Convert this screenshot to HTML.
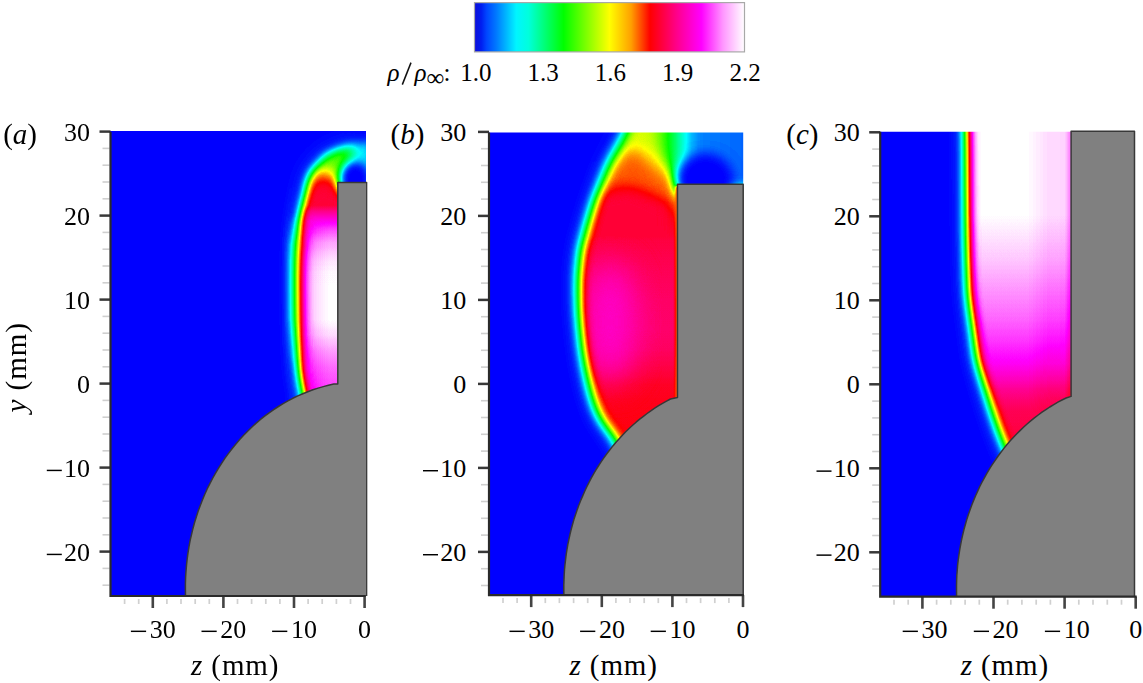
<!DOCTYPE html>
<html><head><meta charset="utf-8"><style>
html,body{margin:0;padding:0;background:#fff;width:1143px;height:683px;overflow:hidden}
svg{display:block}
text{font-family:"Liberation Serif",serif;fill:#000}
.tk{font-size:26px}
.ax{font-size:29px}
.cl{font-size:25px}
</style></head><body>
<svg width="1143" height="683" viewBox="0 0 1143 683">
<defs><filter id="cmap" x="0" y="0" width="1" height="1" color-interpolation-filters="sRGB"><feComponentTransfer><feFuncR type="table" tableValues="0.000 0.000 0.000 0.000 0.000 0.000 0.000 0.000 0.000 0.000 0.000 0.000 0.000 0.000 0.000 0.000 0.000 0.000 0.000 0.000 0.000 0.000 0.000 0.000 0.000 0.000 0.000 0.000 0.000 0.000 0.000 0.000 0.000 0.000 0.059 0.118 0.176 0.235 0.294 0.353 0.412 0.471 0.529 0.588 0.647 0.706 0.765 0.824 0.882 0.941 1.000 1.000 1.000 1.000 1.000 1.000 1.000 1.000 1.000 1.000 1.000 1.000 1.000 1.000 1.000 1.000 1.000 1.000 1.000 1.000 1.000 1.000 1.000 1.000 1.000 1.000 1.000 1.000 1.000 1.000 1.000 1.000 1.000 1.000 1.000 1.000 1.000 1.000 1.000 1.000 1.000 1.000 1.000 1.000 1.000 1.000 1.000 1.000 1.000 1.000 1.000"/><feFuncG type="table" tableValues="0.000 0.067 0.133 0.200 0.267 0.333 0.400 0.467 0.533 0.600 0.667 0.733 0.800 0.867 0.933 1.000 1.000 1.000 1.000 1.000 1.000 1.000 1.000 1.000 1.000 1.000 1.000 1.000 1.000 1.000 1.000 1.000 1.000 1.000 1.000 1.000 1.000 1.000 1.000 1.000 1.000 1.000 1.000 1.000 1.000 1.000 1.000 1.000 1.000 1.000 1.000 0.933 0.867 0.800 0.733 0.667 0.600 0.533 0.467 0.400 0.333 0.267 0.200 0.133 0.067 0.000 0.000 0.000 0.000 0.000 0.000 0.000 0.000 0.000 0.000 0.000 0.000 0.000 0.000 0.000 0.000 0.000 0.000 0.000 0.000 0.063 0.125 0.188 0.250 0.313 0.375 0.438 0.500 0.563 0.625 0.687 0.750 0.812 0.875 0.938 1.000"/><feFuncB type="table" tableValues="1.000 1.000 1.000 1.000 1.000 1.000 1.000 1.000 1.000 1.000 1.000 1.000 1.000 1.000 1.000 1.000 0.944 0.889 0.833 0.778 0.722 0.667 0.611 0.556 0.500 0.444 0.389 0.333 0.278 0.222 0.167 0.111 0.056 0.000 0.000 0.000 0.000 0.000 0.000 0.000 0.000 0.000 0.000 0.000 0.000 0.000 0.000 0.000 0.000 0.000 0.000 0.000 0.000 0.000 0.000 0.000 0.000 0.000 0.000 0.000 0.000 0.000 0.000 0.000 0.000 0.000 0.053 0.105 0.158 0.211 0.263 0.316 0.368 0.421 0.474 0.526 0.579 0.632 0.684 0.737 0.789 0.842 0.895 0.947 1.000 1.000 1.000 1.000 1.000 1.000 1.000 1.000 1.000 1.000 1.000 1.000 1.000 1.000 1.000 1.000 1.000"/></feComponentTransfer></filter><filter id="b1_3" x="-50%" y="-50%" width="200%" height="200%" color-interpolation-filters="sRGB"><feGaussianBlur stdDeviation="1.3"/></filter><filter id="b1_5" x="-50%" y="-50%" width="200%" height="200%" color-interpolation-filters="sRGB"><feGaussianBlur stdDeviation="1.5"/></filter><filter id="b4" x="-50%" y="-50%" width="200%" height="200%" color-interpolation-filters="sRGB"><feGaussianBlur stdDeviation="4"/></filter><filter id="b4_5" x="-50%" y="-50%" width="200%" height="200%" color-interpolation-filters="sRGB"><feGaussianBlur stdDeviation="4.5"/></filter><filter id="b5_5" x="-50%" y="-50%" width="200%" height="200%" color-interpolation-filters="sRGB"><feGaussianBlur stdDeviation="5.5"/></filter><filter id="b6" x="-50%" y="-50%" width="200%" height="200%" color-interpolation-filters="sRGB"><feGaussianBlur stdDeviation="6"/></filter><filter id="b7" x="-50%" y="-50%" width="200%" height="200%" color-interpolation-filters="sRGB"><feGaussianBlur stdDeviation="7"/></filter><filter id="b8" x="-50%" y="-50%" width="200%" height="200%" color-interpolation-filters="sRGB"><feGaussianBlur stdDeviation="8"/></filter><filter id="b9" x="-50%" y="-50%" width="200%" height="200%" color-interpolation-filters="sRGB"><feGaussianBlur stdDeviation="9"/></filter><filter id="b10" x="-50%" y="-50%" width="200%" height="200%" color-interpolation-filters="sRGB"><feGaussianBlur stdDeviation="10"/></filter><filter id="b16" x="-50%" y="-50%" width="200%" height="200%" color-interpolation-filters="sRGB"><feGaussianBlur stdDeviation="16"/></filter><linearGradient id="ga" gradientUnits="userSpaceOnUse" x1="0" y1="120.0" x2="0" y2="420.0"><stop offset="0.0000" stop-color="#5c5c5c"/><stop offset="0.1000" stop-color="#5e5e5e"/><stop offset="0.1500" stop-color="#636363"/><stop offset="0.1933" stop-color="#6b6b6b"/><stop offset="0.2333" stop-color="#808080"/><stop offset="0.2667" stop-color="#a3a3a3"/><stop offset="0.2867" stop-color="#b2b2b2"/><stop offset="0.3033" stop-color="#bfbfbf"/><stop offset="0.3333" stop-color="#d1d1d1"/><stop offset="0.3667" stop-color="#e2e2e2"/><stop offset="0.4067" stop-color="#f0f0f0"/><stop offset="0.4400" stop-color="#f6f6f6"/><stop offset="0.4733" stop-color="#fbfbfb"/><stop offset="0.5067" stop-color="#fefefe"/><stop offset="0.5500" stop-color="#ffffff"/><stop offset="0.6667" stop-color="#ffffff"/><stop offset="0.7167" stop-color="#f9f9f9"/><stop offset="0.7667" stop-color="#f0f0f0"/><stop offset="0.8167" stop-color="#e8e8e8"/><stop offset="0.8667" stop-color="#e3e3e3"/><stop offset="0.9167" stop-color="#dfdfdf"/><stop offset="1.0000" stop-color="#dedede"/></linearGradient><linearGradient id="fadeA" gradientUnits="userSpaceOnUse" x1="338" y1="0" x2="366" y2="0"><stop offset="0" stop-color="#000" stop-opacity="0"/><stop offset="1" stop-color="#000" stop-opacity="0.2"/></linearGradient><linearGradient id="fadeL" gradientUnits="userSpaceOnUse" x1="298" y1="0" x2="326" y2="0"><stop offset="0" stop-color="#000" stop-opacity="0.07"/><stop offset="1" stop-color="#000" stop-opacity="0"/></linearGradient><linearGradient id="mka" gradientUnits="userSpaceOnUse" x1="0" y1="131.0" x2="0" y2="400.0"><stop offset="0.0000" stop-color="#000000"/><stop offset="0.3011" stop-color="#000000"/><stop offset="0.4238" stop-color="#ffffff"/><stop offset="0.7026" stop-color="#ffffff"/><stop offset="0.8885" stop-color="#404040"/><stop offset="1.0743" stop-color="#404040"/></linearGradient><mask id="mlowa" maskUnits="userSpaceOnUse" x="90" y="110" width="300" height="510"><rect x="90" y="110" width="300" height="510" fill="url(#mka)"/></mask><linearGradient id="gb" gradientUnits="userSpaceOnUse" x1="0" y1="120.0" x2="0" y2="470.0"><stop offset="0.0000" stop-color="#787878"/><stop offset="0.0714" stop-color="#7a7a7a"/><stop offset="0.1143" stop-color="#808080"/><stop offset="0.1571" stop-color="#878787"/><stop offset="0.2000" stop-color="#919191"/><stop offset="0.2429" stop-color="#9e9e9e"/><stop offset="0.2857" stop-color="#a8a8a8"/><stop offset="0.3429" stop-color="#b2b2b2"/><stop offset="0.4286" stop-color="#b6b6b6"/><stop offset="0.5143" stop-color="#b9b9b9"/><stop offset="0.6000" stop-color="#bababa"/><stop offset="0.6571" stop-color="#b8b8b8"/><stop offset="0.7143" stop-color="#b2b2b2"/><stop offset="0.7571" stop-color="#adadad"/><stop offset="0.8000" stop-color="#ababab"/><stop offset="0.9143" stop-color="#a8a8a8"/><stop offset="1.0000" stop-color="#a8a8a8"/></linearGradient><linearGradient id="gbh" gradientUnits="userSpaceOnUse" x1="645.0" y1="0" x2="745.0" y2="0"><stop offset="0.0000" stop-color="#7a7a7a"/><stop offset="0.0700" stop-color="#757575"/><stop offset="0.1700" stop-color="#616161"/><stop offset="0.2500" stop-color="#525252"/><stop offset="0.3900" stop-color="#292929"/><stop offset="0.5000" stop-color="#141414"/><stop offset="1.0000" stop-color="#0f0f0f"/></linearGradient><linearGradient id="gc" gradientUnits="userSpaceOnUse" x1="0" y1="120.0" x2="0" y2="470.0"><stop offset="0.0000" stop-color="#ffffff"/><stop offset="0.2714" stop-color="#ffffff"/><stop offset="0.3286" stop-color="#fbfbfb"/><stop offset="0.4000" stop-color="#f6f6f6"/><stop offset="0.4857" stop-color="#eeeeee"/><stop offset="0.5714" stop-color="#e6e6e6"/><stop offset="0.6429" stop-color="#dddddd"/><stop offset="0.6971" stop-color="#d4d4d4"/><stop offset="0.7429" stop-color="#c9c9c9"/><stop offset="0.7714" stop-color="#c1c1c1"/><stop offset="0.8286" stop-color="#b6b6b6"/><stop offset="0.9143" stop-color="#b1b1b1"/><stop offset="1.0000" stop-color="#afafaf"/></linearGradient><clipPath id="clipa"><rect x="110.5" y="131.8" width="255.1" height="464.2"/></clipPath><clipPath id="clipba"><rect x="110.5" y="128.8" width="257.1" height="467.2"/></clipPath><clipPath id="clipb"><rect x="489.0" y="132.6" width="254.2" height="462.5"/></clipPath><clipPath id="clipbb"><rect x="489.0" y="129.6" width="257.0" height="465.5"/></clipPath><clipPath id="clipc"><rect x="880.2" y="131.8" width="254.3" height="464.9"/></clipPath><clipPath id="clipbc"><rect x="880.2" y="128.8" width="258.5" height="467.9"/></clipPath><linearGradient id="cbg" x1="0" x2="1" y1="0" y2="0"><stop offset="0.000" stop-color="rgb(15,15,215)"/><stop offset="0.025" stop-color="rgb(0,30,240)"/><stop offset="0.045" stop-color="rgb(0,70,255)"/><stop offset="0.080" stop-color="rgb(0,120,255)"/><stop offset="0.110" stop-color="rgb(0,170,255)"/><stop offset="0.140" stop-color="rgb(0,220,255)"/><stop offset="0.155" stop-color="rgb(0,245,255)"/><stop offset="0.200" stop-color="rgb(0,255,220)"/><stop offset="0.330" stop-color="rgb(0,255,0)"/><stop offset="0.500" stop-color="rgb(255,255,0)"/><stop offset="0.580" stop-color="rgb(255,160,0)"/><stop offset="0.650" stop-color="rgb(255,0,0)"/><stop offset="0.750" stop-color="rgb(255,0,140)"/><stop offset="0.840" stop-color="rgb(255,0,255)"/><stop offset="0.920" stop-color="rgb(255,150,255)"/><stop offset="1.000" stop-color="rgb(255,255,255)"/></linearGradient></defs>
<g clip-path="url(#clipa)"><g filter="url(#cmap)"><rect x="100" y="120" width="280" height="490" fill="url(#ga)"/><rect x="352" y="110" width="40" height="80" fill="#000" opacity="0.55" filter="url(#b6)"/><path d="M321,168 L346,188 L346,240 L290,240 L290,205 Z" fill="#b0b0b0" filter="url(#b8)" style="mix-blend-mode:lighten"/><ellipse cx="355" cy="180" rx="16" ry="19" fill="#000" filter="url(#b4)"/><rect x="335" y="125" width="40" height="62" fill="url(#fadeA)"/><rect x="280" y="225" width="50" height="190" fill="url(#fadeL)" filter="url(#b4)"/><g style="mix-blend-mode:multiply"><rect x="100" y="120" width="280" height="490" fill="#000"/><g filter="url(#b4_5)"><path transform="translate(0.9,0.7)" d="M305.5,402.0 C304.9,399.6 303.1,392.8 302.1,387.5 C301.1,382.2 300.0,376.2 299.4,370.0 C298.8,363.8 298.6,358.3 298.3,350.0 C298.0,341.7 297.6,330.0 297.4,320.0 C297.2,310.0 297.1,300.0 297.1,290.0 C297.1,280.0 297.0,270.0 297.2,260.0 C297.4,250.0 297.9,238.3 298.5,230.0 C299.1,221.7 300.0,216.0 301.0,210.0 C302.0,204.0 303.7,198.5 304.6,194.0 C305.5,189.5 305.6,186.2 306.3,183.0 C307.0,179.8 307.6,177.1 308.7,174.5 C309.8,171.9 311.3,169.7 313.0,167.5 C314.7,165.3 316.9,163.2 318.7,161.3 C320.5,159.4 321.8,157.5 323.6,156.0 C325.4,154.5 326.6,153.7 329.3,152.4 C332.0,151.1 336.9,149.2 340.0,148.1 C343.1,146.9 345.0,146.3 348.0,145.5 C351.0,144.7 354.0,143.9 358.0,143.2 C362.0,142.5 369.7,141.8 372.0,141.5 L372,420 L300,420 Z" fill="#fff"/></g><g mask="url(#mlowa)"><rect x="100" y="120" width="280" height="490" fill="#000"/><g filter="url(#b7)"><path transform="translate(0.9,0.7)" d="M305.5,402.0 C304.9,399.6 303.1,392.8 302.1,387.5 C301.1,382.2 300.0,376.2 299.4,370.0 C298.8,363.8 298.6,358.3 298.3,350.0 C298.0,341.7 297.6,330.0 297.4,320.0 C297.2,310.0 297.1,300.0 297.1,290.0 C297.1,280.0 297.0,270.0 297.2,260.0 C297.4,250.0 297.9,238.3 298.5,230.0 C299.1,221.7 300.0,216.0 301.0,210.0 C302.0,204.0 303.7,198.5 304.6,194.0 C305.5,189.5 305.6,186.2 306.3,183.0 C307.0,179.8 307.6,177.1 308.7,174.5 C309.8,171.9 311.3,169.7 313.0,167.5 C314.7,165.3 316.9,163.2 318.7,161.3 C320.5,159.4 321.8,157.5 323.6,156.0 C325.4,154.5 326.6,153.7 329.3,152.4 C332.0,151.1 336.9,149.2 340.0,148.1 C343.1,146.9 345.0,146.3 348.0,145.5 C351.0,144.7 354.0,143.9 358.0,143.2 C362.0,142.5 369.7,141.8 372.0,141.5 L372,420 L300,420 Z" fill="#fff"/></g></g><g opacity="0.18" filter="url(#b10)"><path transform="translate(0.9,0.7)" d="M305.5,402.0 C304.9,399.6 303.1,392.8 302.1,387.5 C301.1,382.2 300.0,376.2 299.4,370.0 C298.8,363.8 298.6,358.3 298.3,350.0 C298.0,341.7 297.6,330.0 297.4,320.0 C297.2,310.0 297.1,300.0 297.1,290.0 C297.1,280.0 297.0,270.0 297.2,260.0 C297.4,250.0 297.9,238.3 298.5,230.0 C299.1,221.7 300.0,216.0 301.0,210.0 C302.0,204.0 303.7,198.5 304.6,194.0 C305.5,189.5 305.6,186.2 306.3,183.0 C307.0,179.8 307.6,177.1 308.7,174.5 C309.8,171.9 311.3,169.7 313.0,167.5 C314.7,165.3 316.9,163.2 318.7,161.3 C320.5,159.4 321.8,157.5 323.6,156.0 C325.4,154.5 326.6,153.7 329.3,152.4 C332.0,151.1 336.9,149.2 340.0,148.1 C343.1,146.9 345.0,146.3 348.0,145.5 C351.0,144.7 354.0,143.9 358.0,143.2 C362.0,142.5 369.7,141.8 372.0,141.5 L372,420 L300,420 Z" fill="#fff"/></g></g></g></g>
<path d="M366.8,182.5 L337.8,182.5 L337.8,384.0 L333.8,384.1 L328.5,385.2 L323.3,386.6 L318.1,388.1 L312.9,389.8 L307.8,391.7 L302.8,393.7 L297.8,395.9 L292.8,398.3 L287.9,400.9 L283.1,403.6 L278.4,406.5 L273.7,409.6 L269.1,412.8 L264.6,416.2 L260.2,419.7 L255.9,423.4 L251.7,427.2 L247.6,431.2 L243.6,435.3 L239.7,439.6 L235.9,444.0 L232.2,448.5 L228.7,453.1 L225.2,457.9 L221.9,462.8 L218.7,467.8 L215.7,472.8 L212.8,478.0 L210.0,483.3 L207.3,488.7 L204.8,494.2 L202.5,499.8 L200.3,505.4 L198.2,511.1 L196.3,516.9 L194.5,522.8 L192.9,528.7 L191.5,534.7 L190.1,540.7 L189.0,546.7 L188.0,552.8 L187.2,558.9 L186.5,565.1 L186.0,571.2 L185.6,577.4 L185.4,583.6 L185.4,589.8 L185.5,596.0 L366.8,596.0 Z" fill="#808080" stroke="#383838" stroke-width="1.5" stroke-linejoin="round" clip-path="url(#clipba)"/>
<line x1="102.5" y1="585.2" x2="109.5" y2="585.2" stroke="#cfcfcf" stroke-width="1.6"/><line x1="102.5" y1="568.4" x2="109.5" y2="568.4" stroke="#cfcfcf" stroke-width="1.6"/><line x1="99.5" y1="551.6" x2="110.5" y2="551.6" stroke="#383838" stroke-width="2.5"/><text x="90.1" y="560.6" text-anchor="end" class="tk">20</text><rect x="46.8" y="553.7" width="15.0" height="1.45" fill="#000"/><line x1="102.5" y1="534.8" x2="109.5" y2="534.8" stroke="#cfcfcf" stroke-width="1.6"/><line x1="102.5" y1="518.0" x2="109.5" y2="518.0" stroke="#cfcfcf" stroke-width="1.6"/><line x1="102.5" y1="501.2" x2="109.5" y2="501.2" stroke="#cfcfcf" stroke-width="1.6"/><line x1="102.5" y1="484.4" x2="109.5" y2="484.4" stroke="#cfcfcf" stroke-width="1.6"/><line x1="99.5" y1="467.6" x2="110.5" y2="467.6" stroke="#383838" stroke-width="2.5"/><text x="90.1" y="476.6" text-anchor="end" class="tk">10</text><rect x="46.8" y="469.7" width="15.0" height="1.45" fill="#000"/><line x1="102.5" y1="450.8" x2="109.5" y2="450.8" stroke="#cfcfcf" stroke-width="1.6"/><line x1="102.5" y1="434.0" x2="109.5" y2="434.0" stroke="#cfcfcf" stroke-width="1.6"/><line x1="102.5" y1="417.2" x2="109.5" y2="417.2" stroke="#cfcfcf" stroke-width="1.6"/><line x1="102.5" y1="400.4" x2="109.5" y2="400.4" stroke="#cfcfcf" stroke-width="1.6"/><line x1="99.5" y1="383.6" x2="110.5" y2="383.6" stroke="#383838" stroke-width="2.5"/><text x="90.1" y="392.6" text-anchor="end" class="tk">0</text><line x1="102.5" y1="366.8" x2="109.5" y2="366.8" stroke="#cfcfcf" stroke-width="1.6"/><line x1="102.5" y1="350.0" x2="109.5" y2="350.0" stroke="#cfcfcf" stroke-width="1.6"/><line x1="102.5" y1="333.2" x2="109.5" y2="333.2" stroke="#cfcfcf" stroke-width="1.6"/><line x1="102.5" y1="316.4" x2="109.5" y2="316.4" stroke="#cfcfcf" stroke-width="1.6"/><line x1="99.5" y1="299.6" x2="110.5" y2="299.6" stroke="#383838" stroke-width="2.5"/><text x="90.1" y="308.6" text-anchor="end" class="tk">10</text><line x1="102.5" y1="282.8" x2="109.5" y2="282.8" stroke="#cfcfcf" stroke-width="1.6"/><line x1="102.5" y1="266.0" x2="109.5" y2="266.0" stroke="#cfcfcf" stroke-width="1.6"/><line x1="102.5" y1="249.2" x2="109.5" y2="249.2" stroke="#cfcfcf" stroke-width="1.6"/><line x1="102.5" y1="232.4" x2="109.5" y2="232.4" stroke="#cfcfcf" stroke-width="1.6"/><line x1="99.5" y1="215.6" x2="110.5" y2="215.6" stroke="#383838" stroke-width="2.5"/><text x="90.1" y="224.6" text-anchor="end" class="tk">20</text><line x1="102.5" y1="198.8" x2="109.5" y2="198.8" stroke="#cfcfcf" stroke-width="1.6"/><line x1="102.5" y1="182.0" x2="109.5" y2="182.0" stroke="#cfcfcf" stroke-width="1.6"/><line x1="102.5" y1="165.2" x2="109.5" y2="165.2" stroke="#cfcfcf" stroke-width="1.6"/><line x1="102.5" y1="148.4" x2="109.5" y2="148.4" stroke="#cfcfcf" stroke-width="1.6"/><line x1="99.5" y1="131.6" x2="110.5" y2="131.6" stroke="#383838" stroke-width="2.5"/><text x="90.1" y="140.6" text-anchor="end" class="tk">30</text><line x1="124.6" y1="599.0" x2="124.6" y2="604.0" stroke="#d0d0d0" stroke-width="1.7"/><line x1="138.7" y1="599.0" x2="138.7" y2="604.0" stroke="#d0d0d0" stroke-width="1.7"/><line x1="152.8" y1="596.0" x2="152.8" y2="608.0" stroke="#444" stroke-width="2.6"/><text x="149.7" y="637.8" class="tk">30</text><rect x="130.9" y="630.6" width="15.2" height="1.45" fill="#000"/><line x1="166.9" y1="599.0" x2="166.9" y2="604.0" stroke="#d0d0d0" stroke-width="1.7"/><line x1="181.0" y1="599.0" x2="181.0" y2="604.0" stroke="#d0d0d0" stroke-width="1.7"/><line x1="195.2" y1="599.0" x2="195.2" y2="604.0" stroke="#d0d0d0" stroke-width="1.7"/><line x1="209.3" y1="599.0" x2="209.3" y2="604.0" stroke="#d0d0d0" stroke-width="1.7"/><line x1="223.4" y1="596.0" x2="223.4" y2="608.0" stroke="#444" stroke-width="2.6"/><text x="220.3" y="637.8" class="tk">20</text><rect x="201.5" y="630.6" width="15.2" height="1.45" fill="#000"/><line x1="237.5" y1="599.0" x2="237.5" y2="604.0" stroke="#d0d0d0" stroke-width="1.7"/><line x1="251.6" y1="599.0" x2="251.6" y2="604.0" stroke="#d0d0d0" stroke-width="1.7"/><line x1="265.8" y1="599.0" x2="265.8" y2="604.0" stroke="#d0d0d0" stroke-width="1.7"/><line x1="279.9" y1="599.0" x2="279.9" y2="604.0" stroke="#d0d0d0" stroke-width="1.7"/><line x1="294.0" y1="596.0" x2="294.0" y2="608.0" stroke="#444" stroke-width="2.6"/><text x="290.9" y="637.8" class="tk">10</text><rect x="272.1" y="630.6" width="15.2" height="1.45" fill="#000"/><line x1="308.1" y1="599.0" x2="308.1" y2="604.0" stroke="#d0d0d0" stroke-width="1.7"/><line x1="322.2" y1="599.0" x2="322.2" y2="604.0" stroke="#d0d0d0" stroke-width="1.7"/><line x1="336.4" y1="599.0" x2="336.4" y2="604.0" stroke="#d0d0d0" stroke-width="1.7"/><line x1="350.5" y1="599.0" x2="350.5" y2="604.0" stroke="#d0d0d0" stroke-width="1.7"/><line x1="364.6" y1="596.0" x2="364.6" y2="608.0" stroke="#444" stroke-width="2.6"/><text x="364.6" y="637.8" text-anchor="middle" class="tk">0</text><path d="M110.5,131.8 L110.5,596.0 L365.6,596.0" fill="none" stroke="#2a2a2a" stroke-width="2.2"/>
<text x="191.0" y="674.6" class="ax" letter-spacing="0.9"><tspan font-style="italic">z</tspan> (mm)</text>
<text x="3.2" y="144" class="ax">(<tspan font-style="italic">a</tspan>)</text>
<g clip-path="url(#clipb)"><g filter="url(#cmap)"><rect x="480" y="120" width="280" height="490" fill="url(#gb)"/><ellipse cx="610" cy="322" rx="26" ry="62" fill="#cccccc" filter="url(#b16)"/><ellipse cx="674" cy="192" rx="7" ry="22" fill="#8f8f8f" filter="url(#b6)"/><path d="M646,120 L760,120 L760,190 L679,190 L675,182 L662,155 Z" fill="url(#gbh)" filter="url(#b6)"/><path d="M633,146 L672,188 L672,250 L592,250 L592,190 Z" fill="#999999" filter="url(#b8)" style="mix-blend-mode:lighten"/><path d="M628,186 C616,188 600,191 580,196 L560,202 L560,280 L672,280 L672,205 C660,198 645,190 628,186 Z" fill="#b0b0b0" filter="url(#b7)" style="mix-blend-mode:lighten"/><ellipse cx="705" cy="180" rx="29" ry="27" fill="#000" filter="url(#b5_5)"/><rect x="675" y="186" width="6" height="215" fill="#999999" filter="url(#b1_3)"/><g style="mix-blend-mode:multiply"><rect x="480" y="120" width="280" height="490" fill="#000"/><g filter="url(#b6)"><path transform="translate(0.9,0)" d="M630.0,470.0 C627.6,465.0 621.0,449.8 615.5,440.0 C610.0,430.2 602.0,423.2 597.0,411.0 C592.0,398.8 588.3,381.7 585.5,367.0 C582.7,352.3 581.2,336.7 580.0,323.0 C578.8,309.3 578.5,295.5 578.5,285.0 C578.5,274.5 579.3,266.8 580.0,260.0 C580.7,253.2 580.2,253.2 582.5,244.0 C584.8,234.8 589.4,217.8 593.5,205.0 C597.6,192.2 603.3,176.5 607.2,167.0 C611.1,157.5 614.0,153.8 617.0,148.0 C620.0,142.2 623.2,136.7 625.2,132.0 C627.2,127.3 627.5,125.3 629.3,120.0 C631.1,114.7 634.0,106.7 636.0,100.0 C638.0,93.3 640.2,83.3 641.0,80.0 L760,80 L760,470 Z" fill="#fff"/></g><g opacity="0.18" filter="url(#b10)"><path transform="translate(0.9,0)" d="M630.0,470.0 C627.6,465.0 621.0,449.8 615.5,440.0 C610.0,430.2 602.0,423.2 597.0,411.0 C592.0,398.8 588.3,381.7 585.5,367.0 C582.7,352.3 581.2,336.7 580.0,323.0 C578.8,309.3 578.5,295.5 578.5,285.0 C578.5,274.5 579.3,266.8 580.0,260.0 C580.7,253.2 580.2,253.2 582.5,244.0 C584.8,234.8 589.4,217.8 593.5,205.0 C597.6,192.2 603.3,176.5 607.2,167.0 C611.1,157.5 614.0,153.8 617.0,148.0 C620.0,142.2 623.2,136.7 625.2,132.0 C627.2,127.3 627.5,125.3 629.3,120.0 C631.1,114.7 634.0,106.7 636.0,100.0 C638.0,93.3 640.2,83.3 641.0,80.0 L760,80 L760,470 Z" fill="#fff"/></g></g></g></g>
<path d="M743.2,184.2 L677.5,184.2 L677.5,397.6 L670.5,399.0 L666.5,401.1 L662.5,403.4 L658.6,405.7 L654.7,408.2 L650.8,410.8 L647.1,413.5 L643.4,416.3 L639.7,419.2 L636.1,422.2 L632.6,425.3 L629.1,428.5 L625.7,431.8 L622.4,435.2 L619.2,438.7 L616.0,442.2 L612.9,445.9 L609.9,449.7 L607.0,453.5 L604.2,457.4 L601.4,461.4 L598.7,465.5 L596.1,469.7 L593.6,473.9 L591.2,478.2 L588.9,482.6 L586.7,487.0 L584.6,491.5 L582.6,496.1 L580.6,500.7 L578.8,505.3 L577.1,510.1 L575.5,514.8 L573.9,519.6 L572.5,524.5 L571.2,529.4 L570.0,534.3 L568.9,539.3 L567.9,544.2 L567.0,549.3 L566.2,554.3 L565.6,559.4 L565.0,564.4 L564.5,569.5 L564.2,574.6 L564.0,579.7 L563.8,584.9 L563.8,590.0 L563.9,595.1 L743.2,595.1 Z" fill="#808080" stroke="#383838" stroke-width="1.5" stroke-linejoin="round" clip-path="url(#clipbb)"/>
<line x1="481.0" y1="585.5" x2="488.0" y2="585.5" stroke="#cfcfcf" stroke-width="1.6"/><line x1="481.0" y1="568.7" x2="488.0" y2="568.7" stroke="#cfcfcf" stroke-width="1.6"/><line x1="478.0" y1="551.9" x2="489.0" y2="551.9" stroke="#383838" stroke-width="2.5"/><text x="466.3" y="560.9" text-anchor="end" class="tk">20</text><rect x="423.0" y="554.0" width="15.0" height="1.45" fill="#000"/><line x1="481.0" y1="535.1" x2="488.0" y2="535.1" stroke="#cfcfcf" stroke-width="1.6"/><line x1="481.0" y1="518.3" x2="488.0" y2="518.3" stroke="#cfcfcf" stroke-width="1.6"/><line x1="481.0" y1="501.5" x2="488.0" y2="501.5" stroke="#cfcfcf" stroke-width="1.6"/><line x1="481.0" y1="484.7" x2="488.0" y2="484.7" stroke="#cfcfcf" stroke-width="1.6"/><line x1="478.0" y1="467.9" x2="489.0" y2="467.9" stroke="#383838" stroke-width="2.5"/><text x="466.3" y="476.9" text-anchor="end" class="tk">10</text><rect x="423.0" y="470.0" width="15.0" height="1.45" fill="#000"/><line x1="481.0" y1="451.1" x2="488.0" y2="451.1" stroke="#cfcfcf" stroke-width="1.6"/><line x1="481.0" y1="434.3" x2="488.0" y2="434.3" stroke="#cfcfcf" stroke-width="1.6"/><line x1="481.0" y1="417.5" x2="488.0" y2="417.5" stroke="#cfcfcf" stroke-width="1.6"/><line x1="481.0" y1="400.7" x2="488.0" y2="400.7" stroke="#cfcfcf" stroke-width="1.6"/><line x1="478.0" y1="383.9" x2="489.0" y2="383.9" stroke="#383838" stroke-width="2.5"/><text x="466.3" y="392.9" text-anchor="end" class="tk">0</text><line x1="481.0" y1="367.1" x2="488.0" y2="367.1" stroke="#cfcfcf" stroke-width="1.6"/><line x1="481.0" y1="350.3" x2="488.0" y2="350.3" stroke="#cfcfcf" stroke-width="1.6"/><line x1="481.0" y1="333.5" x2="488.0" y2="333.5" stroke="#cfcfcf" stroke-width="1.6"/><line x1="481.0" y1="316.7" x2="488.0" y2="316.7" stroke="#cfcfcf" stroke-width="1.6"/><line x1="478.0" y1="299.9" x2="489.0" y2="299.9" stroke="#383838" stroke-width="2.5"/><text x="466.3" y="308.9" text-anchor="end" class="tk">10</text><line x1="481.0" y1="283.1" x2="488.0" y2="283.1" stroke="#cfcfcf" stroke-width="1.6"/><line x1="481.0" y1="266.3" x2="488.0" y2="266.3" stroke="#cfcfcf" stroke-width="1.6"/><line x1="481.0" y1="249.5" x2="488.0" y2="249.5" stroke="#cfcfcf" stroke-width="1.6"/><line x1="481.0" y1="232.7" x2="488.0" y2="232.7" stroke="#cfcfcf" stroke-width="1.6"/><line x1="478.0" y1="215.9" x2="489.0" y2="215.9" stroke="#383838" stroke-width="2.5"/><text x="466.3" y="224.9" text-anchor="end" class="tk">20</text><line x1="481.0" y1="199.1" x2="488.0" y2="199.1" stroke="#cfcfcf" stroke-width="1.6"/><line x1="481.0" y1="182.3" x2="488.0" y2="182.3" stroke="#cfcfcf" stroke-width="1.6"/><line x1="481.0" y1="165.5" x2="488.0" y2="165.5" stroke="#cfcfcf" stroke-width="1.6"/><line x1="481.0" y1="148.7" x2="488.0" y2="148.7" stroke="#cfcfcf" stroke-width="1.6"/><line x1="478.0" y1="131.9" x2="489.0" y2="131.9" stroke="#383838" stroke-width="2.5"/><text x="466.3" y="140.9" text-anchor="end" class="tk">30</text><line x1="503.0" y1="598.1" x2="503.0" y2="603.1" stroke="#d0d0d0" stroke-width="1.7"/><line x1="517.1" y1="598.1" x2="517.1" y2="603.1" stroke="#d0d0d0" stroke-width="1.7"/><line x1="531.2" y1="595.1" x2="531.2" y2="607.1" stroke="#444" stroke-width="2.6"/><text x="528.3" y="637.8" class="tk">30</text><rect x="509.5" y="630.6" width="15.2" height="1.45" fill="#000"/><line x1="545.3" y1="598.1" x2="545.3" y2="603.1" stroke="#d0d0d0" stroke-width="1.7"/><line x1="559.4" y1="598.1" x2="559.4" y2="603.1" stroke="#d0d0d0" stroke-width="1.7"/><line x1="573.6" y1="598.1" x2="573.6" y2="603.1" stroke="#d0d0d0" stroke-width="1.7"/><line x1="587.7" y1="598.1" x2="587.7" y2="603.1" stroke="#d0d0d0" stroke-width="1.7"/><line x1="601.8" y1="595.1" x2="601.8" y2="607.1" stroke="#444" stroke-width="2.6"/><text x="598.9" y="637.8" class="tk">20</text><rect x="580.1" y="630.6" width="15.2" height="1.45" fill="#000"/><line x1="615.9" y1="598.1" x2="615.9" y2="603.1" stroke="#d0d0d0" stroke-width="1.7"/><line x1="630.0" y1="598.1" x2="630.0" y2="603.1" stroke="#d0d0d0" stroke-width="1.7"/><line x1="644.2" y1="598.1" x2="644.2" y2="603.1" stroke="#d0d0d0" stroke-width="1.7"/><line x1="658.3" y1="598.1" x2="658.3" y2="603.1" stroke="#d0d0d0" stroke-width="1.7"/><line x1="672.4" y1="595.1" x2="672.4" y2="607.1" stroke="#444" stroke-width="2.6"/><text x="669.5" y="637.8" class="tk">10</text><rect x="650.7" y="630.6" width="15.2" height="1.45" fill="#000"/><line x1="686.5" y1="598.1" x2="686.5" y2="603.1" stroke="#d0d0d0" stroke-width="1.7"/><line x1="700.6" y1="598.1" x2="700.6" y2="603.1" stroke="#d0d0d0" stroke-width="1.7"/><line x1="714.8" y1="598.1" x2="714.8" y2="603.1" stroke="#d0d0d0" stroke-width="1.7"/><line x1="728.9" y1="598.1" x2="728.9" y2="603.1" stroke="#d0d0d0" stroke-width="1.7"/><line x1="743.0" y1="595.1" x2="743.0" y2="607.1" stroke="#444" stroke-width="2.6"/><text x="743.0" y="637.8" text-anchor="middle" class="tk">0</text><path d="M489.0,132.6 L489.0,595.1 L744.0,595.1" fill="none" stroke="#2a2a2a" stroke-width="2.2"/>
<text x="569.5" y="674.6" class="ax" letter-spacing="0.9"><tspan font-style="italic">z</tspan> (mm)</text>
<text x="390.5" y="144" class="ax">(<tspan font-style="italic">b</tspan>)</text>
<g clip-path="url(#clipc)"><g filter="url(#cmap)"><rect x="870" y="120" width="280" height="490" fill="url(#gc)"/><rect x="1038" y="110" width="50" height="300" fill="#000" opacity="0.025" filter="url(#b9)"/><rect x="1067" y="110" width="10" height="300" fill="#000" opacity="0.05" filter="url(#b1_5)"/><g style="mix-blend-mode:multiply"><rect x="870" y="120" width="280" height="490" fill="#000"/><g filter="url(#b5_5)"><path transform="translate(1.2,0)" d="M1014.5,470.0 C1013.8,468.3 1012.6,465.0 1010.5,460.0 C1008.4,455.0 1004.6,446.7 1002.0,440.0 C999.4,433.3 997.0,426.7 994.8,420.0 C992.5,413.3 990.5,406.7 988.5,400.0 C986.5,393.3 984.5,386.7 982.6,380.0 C980.7,373.3 978.6,366.7 977.3,360.0 C975.9,353.3 975.4,346.7 974.5,340.0 C973.6,333.3 972.8,325.8 972.0,320.0 C971.2,314.2 970.6,310.0 970.0,305.0 C969.4,300.0 968.9,295.8 968.6,290.0 C968.3,284.2 968.2,276.7 968.0,270.0 C967.8,263.3 967.7,261.7 967.5,250.0 C967.3,238.3 967.1,217.0 967.0,200.0 C966.9,183.0 966.8,161.3 966.7,148.0 C966.6,134.7 966.4,131.3 966.3,120.0 C966.2,108.7 966.0,86.7 966.0,80.0 L1090,80 L1090,470 Z" fill="#fff"/></g><g opacity="0.18" filter="url(#b10)"><path transform="translate(1.2,0)" d="M1014.5,470.0 C1013.8,468.3 1012.6,465.0 1010.5,460.0 C1008.4,455.0 1004.6,446.7 1002.0,440.0 C999.4,433.3 997.0,426.7 994.8,420.0 C992.5,413.3 990.5,406.7 988.5,400.0 C986.5,393.3 984.5,386.7 982.6,380.0 C980.7,373.3 978.6,366.7 977.3,360.0 C975.9,353.3 975.4,346.7 974.5,340.0 C973.6,333.3 972.8,325.8 972.0,320.0 C971.2,314.2 970.6,310.0 970.0,305.0 C969.4,300.0 968.9,295.8 968.6,290.0 C968.3,284.2 968.2,276.7 968.0,270.0 C967.8,263.3 967.7,261.7 967.5,250.0 C967.3,238.3 967.1,217.0 967.0,200.0 C966.9,183.0 966.8,161.3 966.7,148.0 C966.6,134.7 966.4,131.3 966.3,120.0 C966.2,108.7 966.0,86.7 966.0,80.0 L1090,80 L1090,470 Z" fill="#fff"/></g></g></g></g>
<path d="M1134.5,131.2 L1071.1,131.2 L1071.1,396.4 L1066.1,398.0 L1062.0,400.0 L1057.9,402.2 L1053.8,404.6 L1049.8,407.0 L1045.9,409.6 L1042.0,412.2 L1038.2,415.0 L1034.4,417.9 L1030.7,420.9 L1027.1,424.0 L1023.5,427.3 L1020.0,430.6 L1016.6,434.0 L1013.3,437.5 L1010.0,441.1 L1006.8,444.8 L1003.7,448.6 L1000.7,452.5 L997.8,456.5 L995.0,460.6 L992.2,464.7 L989.5,468.9 L987.0,473.2 L984.5,477.6 L982.1,482.0 L979.8,486.5 L977.7,491.1 L975.6,495.7 L973.6,500.4 L971.7,505.2 L970.0,510.0 L968.3,514.8 L966.7,519.7 L965.3,524.7 L963.9,529.7 L962.7,534.7 L961.6,539.7 L960.6,544.8 L959.7,549.9 L958.9,555.1 L958.2,560.2 L957.6,565.4 L957.2,570.6 L956.8,575.8 L956.6,581.0 L956.5,586.3 L956.5,591.5 L956.6,596.7 L1134.5,596.7 Z" fill="#808080" stroke="#383838" stroke-width="1.5" stroke-linejoin="round" clip-path="url(#clipbc)"/>
<line x1="872.2" y1="585.9" x2="879.2" y2="585.9" stroke="#cfcfcf" stroke-width="1.6"/><line x1="872.2" y1="569.1" x2="879.2" y2="569.1" stroke="#cfcfcf" stroke-width="1.6"/><line x1="869.2" y1="552.3" x2="880.2" y2="552.3" stroke="#383838" stroke-width="2.5"/><text x="859.8" y="561.3" text-anchor="end" class="tk">20</text><rect x="816.5" y="554.4" width="15.0" height="1.45" fill="#000"/><line x1="872.2" y1="535.5" x2="879.2" y2="535.5" stroke="#cfcfcf" stroke-width="1.6"/><line x1="872.2" y1="518.7" x2="879.2" y2="518.7" stroke="#cfcfcf" stroke-width="1.6"/><line x1="872.2" y1="501.9" x2="879.2" y2="501.9" stroke="#cfcfcf" stroke-width="1.6"/><line x1="872.2" y1="485.1" x2="879.2" y2="485.1" stroke="#cfcfcf" stroke-width="1.6"/><line x1="869.2" y1="468.3" x2="880.2" y2="468.3" stroke="#383838" stroke-width="2.5"/><text x="859.8" y="477.3" text-anchor="end" class="tk">10</text><rect x="816.5" y="470.4" width="15.0" height="1.45" fill="#000"/><line x1="872.2" y1="451.5" x2="879.2" y2="451.5" stroke="#cfcfcf" stroke-width="1.6"/><line x1="872.2" y1="434.7" x2="879.2" y2="434.7" stroke="#cfcfcf" stroke-width="1.6"/><line x1="872.2" y1="417.9" x2="879.2" y2="417.9" stroke="#cfcfcf" stroke-width="1.6"/><line x1="872.2" y1="401.1" x2="879.2" y2="401.1" stroke="#cfcfcf" stroke-width="1.6"/><line x1="869.2" y1="384.3" x2="880.2" y2="384.3" stroke="#383838" stroke-width="2.5"/><text x="859.8" y="393.3" text-anchor="end" class="tk">0</text><line x1="872.2" y1="367.5" x2="879.2" y2="367.5" stroke="#cfcfcf" stroke-width="1.6"/><line x1="872.2" y1="350.7" x2="879.2" y2="350.7" stroke="#cfcfcf" stroke-width="1.6"/><line x1="872.2" y1="333.9" x2="879.2" y2="333.9" stroke="#cfcfcf" stroke-width="1.6"/><line x1="872.2" y1="317.1" x2="879.2" y2="317.1" stroke="#cfcfcf" stroke-width="1.6"/><line x1="869.2" y1="300.3" x2="880.2" y2="300.3" stroke="#383838" stroke-width="2.5"/><text x="859.8" y="309.3" text-anchor="end" class="tk">10</text><line x1="872.2" y1="283.5" x2="879.2" y2="283.5" stroke="#cfcfcf" stroke-width="1.6"/><line x1="872.2" y1="266.7" x2="879.2" y2="266.7" stroke="#cfcfcf" stroke-width="1.6"/><line x1="872.2" y1="249.9" x2="879.2" y2="249.9" stroke="#cfcfcf" stroke-width="1.6"/><line x1="872.2" y1="233.1" x2="879.2" y2="233.1" stroke="#cfcfcf" stroke-width="1.6"/><line x1="869.2" y1="216.3" x2="880.2" y2="216.3" stroke="#383838" stroke-width="2.5"/><text x="859.8" y="225.3" text-anchor="end" class="tk">20</text><line x1="872.2" y1="199.5" x2="879.2" y2="199.5" stroke="#cfcfcf" stroke-width="1.6"/><line x1="872.2" y1="182.7" x2="879.2" y2="182.7" stroke="#cfcfcf" stroke-width="1.6"/><line x1="872.2" y1="165.9" x2="879.2" y2="165.9" stroke="#cfcfcf" stroke-width="1.6"/><line x1="872.2" y1="149.1" x2="879.2" y2="149.1" stroke="#cfcfcf" stroke-width="1.6"/><line x1="869.2" y1="132.3" x2="880.2" y2="132.3" stroke="#383838" stroke-width="2.5"/><text x="859.8" y="141.3" text-anchor="end" class="tk">30</text><line x1="894.0" y1="599.7" x2="894.0" y2="604.7" stroke="#d0d0d0" stroke-width="1.7"/><line x1="908.2" y1="599.7" x2="908.2" y2="604.7" stroke="#d0d0d0" stroke-width="1.7"/><line x1="922.4" y1="596.7" x2="922.4" y2="608.7" stroke="#444" stroke-width="2.6"/><text x="921.5" y="637.8" class="tk">30</text><rect x="902.7" y="630.6" width="15.2" height="1.45" fill="#000"/><line x1="936.6" y1="599.7" x2="936.6" y2="604.7" stroke="#d0d0d0" stroke-width="1.7"/><line x1="950.8" y1="599.7" x2="950.8" y2="604.7" stroke="#d0d0d0" stroke-width="1.7"/><line x1="965.1" y1="599.7" x2="965.1" y2="604.7" stroke="#d0d0d0" stroke-width="1.7"/><line x1="979.3" y1="599.7" x2="979.3" y2="604.7" stroke="#d0d0d0" stroke-width="1.7"/><line x1="993.5" y1="596.7" x2="993.5" y2="608.7" stroke="#444" stroke-width="2.6"/><text x="992.6" y="637.8" class="tk">20</text><rect x="973.8" y="630.6" width="15.2" height="1.45" fill="#000"/><line x1="1007.7" y1="599.7" x2="1007.7" y2="604.7" stroke="#d0d0d0" stroke-width="1.7"/><line x1="1021.9" y1="599.7" x2="1021.9" y2="604.7" stroke="#d0d0d0" stroke-width="1.7"/><line x1="1036.2" y1="599.7" x2="1036.2" y2="604.7" stroke="#d0d0d0" stroke-width="1.7"/><line x1="1050.4" y1="599.7" x2="1050.4" y2="604.7" stroke="#d0d0d0" stroke-width="1.7"/><line x1="1064.6" y1="596.7" x2="1064.6" y2="608.7" stroke="#444" stroke-width="2.6"/><text x="1063.7" y="637.8" class="tk">10</text><rect x="1044.9" y="630.6" width="15.2" height="1.45" fill="#000"/><line x1="1078.8" y1="599.7" x2="1078.8" y2="604.7" stroke="#d0d0d0" stroke-width="1.7"/><line x1="1093.0" y1="599.7" x2="1093.0" y2="604.7" stroke="#d0d0d0" stroke-width="1.7"/><line x1="1107.3" y1="599.7" x2="1107.3" y2="604.7" stroke="#d0d0d0" stroke-width="1.7"/><line x1="1121.5" y1="599.7" x2="1121.5" y2="604.7" stroke="#d0d0d0" stroke-width="1.7"/><line x1="1135.7" y1="596.7" x2="1135.7" y2="608.7" stroke="#444" stroke-width="2.6"/><text x="1135.7" y="637.8" text-anchor="middle" class="tk">0</text><path d="M880.2,131.8 L880.2,596.7 L1136.7,596.7" fill="none" stroke="#2a2a2a" stroke-width="2.2"/>
<text x="960.7" y="674.6" class="ax" letter-spacing="0.9"><tspan font-style="italic">z</tspan> (mm)</text>
<text x="786.3" y="144" class="ax">(<tspan font-style="italic">c</tspan>)</text>
<text transform="translate(25.6,367.3) rotate(-90)" text-anchor="middle" class="ax" letter-spacing="1.0"><tspan font-style="italic">y</tspan> (mm)</text>
<rect x="474.5" y="2.6" width="270" height="49.3" fill="url(#cbg)" stroke="#a8a8a8" stroke-width="1.2"/>
<text x="387.5" y="81.2" class="cl" font-style="italic">ρ</text>
<line x1="402.3" y1="84.6" x2="411" y2="62.6" stroke="#111" stroke-width="1.5"/>
<text x="414.6" y="81.2" class="cl" font-style="italic">ρ</text>
<text x="426.4" y="86" class="cl" font-size="21.5">∞</text>
<text x="443.6" y="81.2" class="cl">:</text>
<text x="475.8" y="81.2" text-anchor="middle" class="cl">1.0</text>
<text x="543.1" y="81.2" text-anchor="middle" class="cl">1.3</text>
<text x="610.4" y="81.2" text-anchor="middle" class="cl">1.6</text>
<text x="677.7" y="81.2" text-anchor="middle" class="cl">1.9</text>
<text x="745.0" y="81.2" text-anchor="middle" class="cl">2.2</text>
</svg></body></html>
